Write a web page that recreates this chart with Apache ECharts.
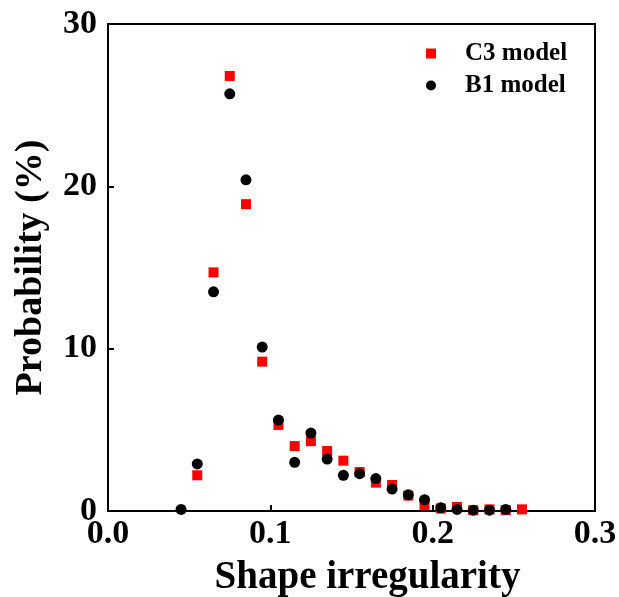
<!DOCTYPE html>
<html>
<head>
<meta charset="utf-8">
<script src="https://cdn.jsdelivr.net/npm/echarts@6/dist/echarts.min.js"></script>
<style>html,body{margin:0;padding:0;background:#fff}#c{width:619px;height:597px}</style>
</head>
<body>
<div id="c"></div>
<script>
var xC3 = [0.055,0.065,0.075,0.085,0.095,0.105,0.115,0.125,0.135,0.145,0.155,0.165,0.175,0.185,0.195,0.205,0.215,0.225,0.235,0.245,0.255];
var yC3 = [2.2,14.7,26.8,18.9,9.2,5.3,4.0,4.3,3.7,3.1,2.4,1.75,1.6,0.95,0.35,0.15,0.25,0.05,0.1,0.05,0.1];
var xB1 = [0.045,0.055,0.065,0.075,0.085,0.095,0.105,0.115,0.125,0.135,0.145,0.155,0.165,0.175,0.185,0.195,0.205,0.215,0.225,0.235,0.245];
var yB1 = [0.1,2.9,13.5,25.7,20.4,10.1,5.6,3.0,4.8,3.2,2.2,2.3,2.0,1.35,1.0,0.7,0.2,0.1,0.05,0.05,0.1];
var xTicks = [0, 0.1, 0.2, 0.3];
var yTicks = [0, 10, 20, 30];
var seriesNames = ['C3 model', 'B1 model'];

function pairs(xs, ys){ return xs.map(function(x,i){ return [x, ys[i]]; }); }
var font = '"Liberation Serif", "Times New Roman", serif';
var chart = echarts.init(document.getElementById('c'));
chart.setOption({
  animation: false,
  backgroundColor: '#fff',
  grid: {left: 108, top: 24, right: 24, bottom: 86, containLabel: false, outerBoundsMode: 'none',
         show: true, borderColor: '#000', borderWidth: 2, backgroundColor: 'transparent'},
  legend: {
    orient: 'vertical', left: 421, top: 36, itemGap: 7, itemWidth: 10, itemHeight: 10,
    textStyle: {fontFamily: font, fontWeight: 'bold', fontSize: 25, color: '#000', padding: [0,0,0,24]},
    data: [{name: seriesNames[0], icon: 'rect'}, {name: seriesNames[1], icon: 'circle'}]
  },
  xAxis: {
    type: 'value', min: xTicks[0], max: xTicks[xTicks.length-1], interval: 0.1,
    name: 'Shape irregularity', nameLocation: 'middle', nameGap: 47,
    nameTextStyle: {fontFamily: font, fontWeight: 'bold', fontSize: 39, color: '#000', padding: [0,0,0,32]},
    axisLine: {show: true, lineStyle: {color: '#000', width: 2}},
    axisTick: {show: true, inside: true, length: 6, lineStyle: {color: '#000', width: 2}},
    axisLabel: {fontFamily: font, fontWeight: 'bold', fontSize: 34, color: '#000', margin: 6,
      formatter: function(v){ return v.toFixed(1); }},
    splitLine: {show: false}
  },
  yAxis: {
    type: 'value', min: yTicks[0], max: yTicks[yTicks.length-1], interval: 10,
    name: 'Probability (%)', nameLocation: 'middle', nameGap: 58,
    nameTextStyle: {fontFamily: font, fontWeight: 'bold', fontSize: 38, color: '#000'},
    axisLine: {show: true, lineStyle: {color: '#000', width: 2}},
    axisTick: {show: true, inside: true, length: 6, lineStyle: {color: '#000', width: 2}},
    axisLabel: {fontFamily: font, fontWeight: 'bold', fontSize: 34, color: '#000', margin: 11},
    splitLine: {show: false}
  },
  series: [
    {name: seriesNames[0], type: 'scatter', symbol: 'rect', symbolSize: 10, itemStyle: {color: '#ff0000', opacity: 1}, data: pairs(xC3, yC3), z: 2},
    {name: seriesNames[1], type: 'scatter', symbol: 'circle', symbolSize: 11, itemStyle: {color: '#000', opacity: 1}, data: pairs(xB1, yB1), z: 3}
  ]
});
</script>
</body>
</html>
